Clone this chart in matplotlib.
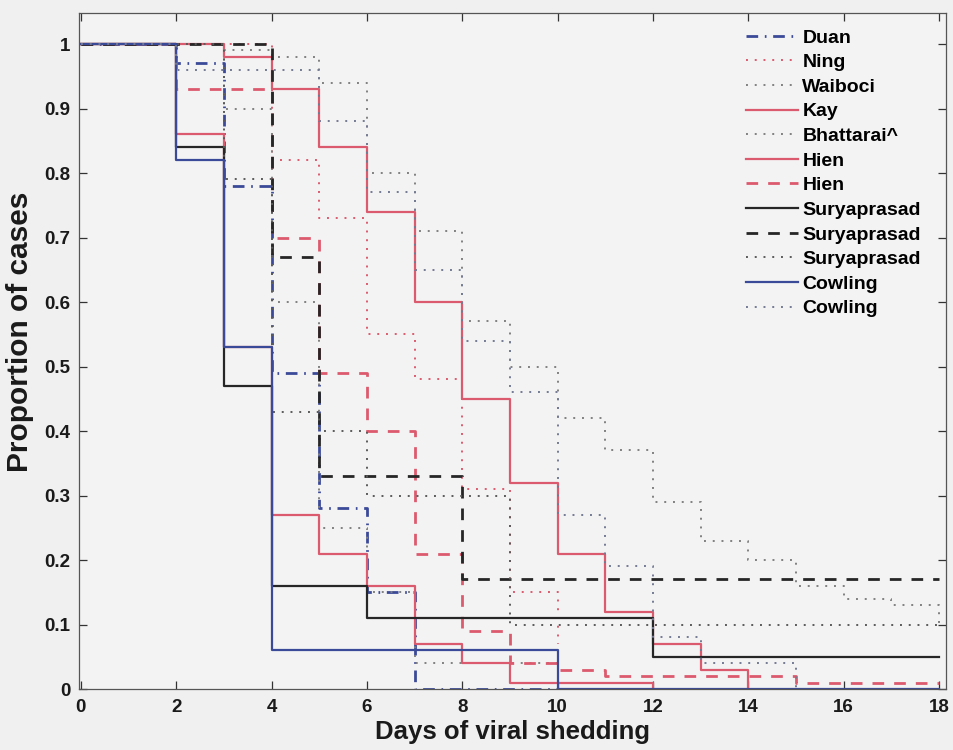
import matplotlib
matplotlib.use('Agg')
import matplotlib.pyplot as plt

plt.rcParams['font.family'] = ['Liberation Sans', 'DejaVu Sans']
plt.rcParams['font.weight'] = 'bold'

# step data: x = day where the value starts, y = proportion still shedding
duan_x = [0, 2, 3, 4, 5, 6, 7, 10]
duan_y = [1, 0.97, 0.78, 0.49, 0.28, 0.15, 0, 0]

ning_x = [0, 4, 5, 6, 7, 8, 9, 10]
ning_y = [1, 0.82, 0.73, 0.55, 0.48, 0.31, 0.15, 0.07]

waiboci_x = [0, 3, 4, 5, 6, 7, 10]
waiboci_y = [1, 0.90, 0.60, 0.25, 0.15, 0.04, 0]

kay_x = [0, 3, 4, 5, 6, 7, 8, 9, 10, 11, 12, 13, 14]
kay_y = [1, 0.98, 0.93, 0.84, 0.74, 0.60, 0.45, 0.32, 0.21, 0.12, 0.07, 0.03, 0]

bhatt_x = [0, 3, 4, 5, 6, 7, 8, 9, 10, 11, 12, 13, 14, 15, 16, 17, 18]
bhatt_y = [1, 0.99, 0.98, 0.94, 0.80, 0.71, 0.57, 0.50, 0.42, 0.37, 0.29, 0.23,
           0.20, 0.16, 0.14, 0.13, 0.10]

hien1_x = [0, 2, 3, 4, 5, 6, 7, 8, 9, 12]
hien1_y = [1, 0.86, 0.53, 0.27, 0.21, 0.16, 0.07, 0.04, 0.01, 0]

hien2_x = [0, 2, 4, 5, 6, 7, 8, 9, 10, 11, 15, 18]
hien2_y = [1, 0.93, 0.70, 0.49, 0.40, 0.21, 0.09, 0.04, 0.03, 0.02, 0.01, 0.01]

surya1_x = [0, 2, 3, 4, 6, 12, 18]
surya1_y = [1, 0.84, 0.47, 0.16, 0.11, 0.05, 0.05]

surya2_x = [0, 4, 5, 8, 18]
surya2_y = [1, 0.67, 0.33, 0.17, 0.17]

surya3_x = [0, 3, 4, 5, 6, 9, 18]
surya3_y = [1, 0.79, 0.43, 0.40, 0.30, 0.10, 0.10]

cowl1_x = [0, 2, 3, 4, 10, 18]
cowl1_y = [1, 0.82, 0.53, 0.06, 0, 0]

cowl2_x = [0, 2, 5, 6, 7, 8, 9, 10, 11, 12, 13, 15]
cowl2_y = [1, 0.96, 0.88, 0.77, 0.65, 0.54, 0.46, 0.27, 0.19, 0.08, 0.04, 0]

red = '#dc5a6e'
blue = '#3b4a98'
black = '#262626'
gray = '#808080'
dot = (0, (1, 3.5))
dash = (0, (4.2, 3.6))
dashdot = (0, (4.2, 2.4, 0.6, 2.4))

series = [
    (duan_x, duan_y, 'Duan', blue, dashdot, 2.0),
    (ning_x, ning_y, 'Ning', red, dot, 1.4),
    (waiboci_x, waiboci_y, 'Waiboci', gray, dot, 1.4),
    (kay_x, kay_y, 'Kay', red, '-', 1.6),
    (bhatt_x, bhatt_y, 'Bhattarai^', gray, dot, 1.4),
    (hien1_x, hien1_y, 'Hien', red, '-', 1.6),
    (hien2_x, hien2_y, 'Hien', red, dash, 2.0),
    (surya1_x, surya1_y, 'Suryaprasad', black, '-', 1.6),
    (surya2_x, surya2_y, 'Suryaprasad', black, dash, 2.0),
    (surya3_x, surya3_y, 'Suryaprasad', '#5a5a5a', dot, 1.4),
    (cowl1_x, cowl1_y, 'Cowling', blue, '-', 1.6),
    (cowl2_x, cowl2_y, 'Cowling', '#737a92', dot, 1.4),
]

fig = plt.figure(figsize=(9.54, 7.5), dpi=100, facecolor='#f0f0f0')
ax = fig.add_axes([0.0828, 0.0813, 0.9088, 0.9013], facecolor='#f3f3f3')

for x, y, lab, c, ls, lw in series:
    ax.plot(x, y, drawstyle='steps-post', color=c, linestyle=ls, lw=lw, label=lab)

ax.set_xlim(-0.04, 18.15)
ax.set_ylim(0, 1.048)
ax.set_xticks(range(0, 19, 2))
ax.set_yticks([i / 10 for i in range(11)])
ax.set_yticklabels(['0', '0.1', '0.2', '0.3', '0.4', '0.5', '0.6', '0.7', '0.8', '0.9', '1'])
ax.tick_params(direction='in', length=6, width=0.9, labelsize=13.5, top=True, right=True,
               colors='#333333', labelcolor='#1a1a1a')
ax.tick_params(axis='x', pad=7)
ax.tick_params(axis='y', pad=6)
for s in ax.spines.values():
    s.set_color('#555555')
    s.set_linewidth(0.9)

ax.set_xlabel('Days of viral shedding', fontsize=18.5, fontweight='bold',
              color='#1a1a1a', labelpad=3)
ax.set_ylabel('Proportion of cases', fontsize=21.5, fontweight='bold', color='#1a1a1a')
ax.yaxis.set_label_coords(-0.052, 0.528)

ax.legend(loc='upper left', bbox_to_anchor=(746 / 954, 1 - 29 / 750),
          bbox_transform=fig.transFigure, frameon=False, fontsize=14,
          handlelength=2.7, handletextpad=0.2, labelspacing=0.36,
          borderpad=0, borderaxespad=0)

fig.savefig('out.png', dpi=100, facecolor=fig.get_facecolor())
